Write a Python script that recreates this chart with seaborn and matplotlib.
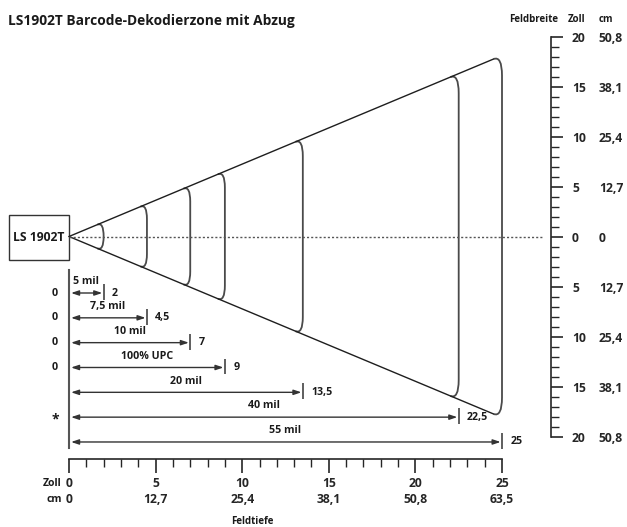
import matplotlib
matplotlib.use('Agg')
import matplotlib.pyplot as plt
from matplotlib.path import Path
from matplotlib.patches import PathPatch, Rectangle
from matplotlib.ticker import MultipleLocator
import pandas as pd
import seaborn as sns

# barcode densities and the far end of their decode range (Zoll)
bar_codes = ['5 mil', '7,5 mil', '10 mil', '100% UPC', '20 mil', '40 mil', '55 mil']
near_labels = ['0', '0', '0', '0', '', '*', '']
far_depth = [2, 4.5, 7, 9, 13.5, 22.5, 25]
far_labels = ['2', '4,5', '7', '9', '13,5', '22,5', '25']

# scan cone: half width at its far end (Zoll)
cone_depth = 25
cone_half_width = 18.1

depth_ticks = [0, 5, 10, 15, 20, 25]
depth_zoll = ['0', '5', '10', '15', '20', '25']
depth_cm = ['0', '12,7', '25,4', '38,1', '50,8', '63,5']

width_ticks = [20, 15, 10, 5, 0, -5, -10, -15, -20]
width_zoll = ['20', '15', '10', '5', '0', '5', '10', '15', '20']
width_cm = ['50,8', '38,1', '25,4', '12,7', '0', '12,7', '25,4', '38,1', '50,8']

title = 'LS1902T Barcode-Dekodierzone mit Abzug'

sns.set_theme(style='white')
plt.rcParams['font.family'] = ['Open Sans', 'DejaVu Sans']
plt.rcParams['font.weight'] = 'bold'
plt.rcParams['text.color'] = '#1a1a1a'

W, H = 627, 527
fig = plt.figure(figsize=(W / 100, H / 100), dpi=100)
fig.patch.set_facecolor('white')


def fx(px):
    return px / W


def fy(py):
    return 1 - py / H


# pixel layout
x0_px, x25_px = 69, 502
px_in_x = (x25_px - x0_px) / 25
y0_px, px_in_y = 236.5, 10.0
ink = '#262626'

# main drawing area: x = depth, y = width (Zoll)
ax = fig.add_axes([0, 0, 1, 1])
ax.set_xlim(-x0_px / px_in_x, (W - x0_px) / px_in_x)
ax.set_ylim(-(H - y0_px) / px_in_y, y0_px / px_in_y)
ax.axis('off')

k = cone_half_width / cone_depth
a_end = 0.35 + 0.006 * cone_depth
xe = cone_depth - a_end
edges = pd.DataFrame({'depth': [0, xe, 0, xe],
                      'width': [0, k * xe, 0, -k * xe],
                      'edge': ['top', 'top', 'bottom', 'bottom']})
sns.lineplot(data=edges, x='depth', y='width', units='edge', estimator=None,
             sort=False, color='#1e1e1e', lw=1.0, ax=ax, legend=False)

# rounded decode limits inside the cone
for d in far_depth:
    a = 0.35 + 0.006 * d
    w = k * d
    b = min(4 * a, w)
    verts = [(d - a, k * (d - a)), (d, w), (d, w - b), (d, -(w - b)),
             (d, -w), (d - a, -k * (d - a))]
    codes = [Path.MOVETO, Path.CURVE3, Path.CURVE3, Path.LINETO,
             Path.CURVE3, Path.CURVE3]
    ax.add_patch(PathPatch(Path(verts, codes), fill=False, ec='#4a4a4a', lw=1.3))

ax.plot([0, (543 - x0_px) / px_in_x], [0, 0], ls=(0, (1.5, 1.5)), color='#555555', lw=1)

# scanner box
bw = 60 / px_in_x
ax.add_patch(Rectangle((-bw, -2.35), bw, 4.5, fc='white', ec='#333333', lw=1))
ax.text(-bw / 2, -0.1, 'LS 1902T', ha='center', va='center', fontsize=8.7)

# range rows
row_top, row_step = 293, 24.83
ax_r = fig.add_axes([0, fy(458), 1, (458 - 268) / H])
ax_r.set_xlim(ax.get_xlim())
ax_r.set_ylim((458 - row_top) / row_step, (268 - row_top) / row_step)
ax_r.patch.set_visible(False)
for s in ['top', 'right', 'bottom']:
    ax_r.spines[s].set_visible(False)
ax_r.spines['left'].set_position(('data', 0))
ax_r.spines['left'].set_bounds(-0.93, 6.23)
ax_r.spines['left'].set_color('#555555')
ax_r.spines['left'].set_linewidth(1.5)
ax_r.set_xticks([])
ax_r.set_yticks([])

for i, (code, near, d, far) in enumerate(zip(bar_codes, near_labels, far_depth, far_labels)):
    ax_r.annotate('', xy=(d, i), xytext=(0, i),
                  arrowprops=dict(arrowstyle='<|-|>,head_length=0.45,head_width=0.15',
                                  color='#333333', lw=1, shrinkA=1.5, shrinkB=1,
                                  mutation_scale=10))
    ax_r.vlines(d, i - 0.36, i + 0.28, color='#333333', lw=1.1)
    ax_r.text(d / 2, i - 0.45, code, ha='center', va='center', fontsize=7.7)
    ax_r.annotate(far, xy=(d, i), xytext=(6, 0), textcoords='offset points',
                  ha='left', va='center', fontsize=7.7)
    if near:
        ax_r.annotate(near, xy=(0, i), xytext=(-10, -2 if near == '*' else 0),
                      textcoords='offset points', ha='center', va='center',
                      fontsize=10 if near == '*' else 7.7)

# depth scale (bottom)
ax_b = fig.add_axes([fx(x0_px), fy(459), fx(x25_px) - fx(x0_px), 0.05])
ax_bc = fig.add_axes(ax_b.get_position().bounds)
for a_ in (ax_b, ax_bc):
    a_.set_xlim(0, 25)
    a_.patch.set_visible(False)
    a_.set_yticks([])
    for s in ['top', 'right', 'left', 'bottom']:
        a_.spines[s].set_visible(False)
ax_b.spines['bottom'].set_visible(True)
ax_b.spines['bottom'].set_color(ink)
ax_b.spines['bottom'].set_linewidth(1.2)
ax_b.set_xticks(depth_ticks, depth_zoll)
ax_b.xaxis.set_minor_locator(MultipleLocator(1))
ax_b.tick_params(axis='x', which='major', bottom=True, length=10, width=1.2,
                 color=ink, pad=3, labelsize=8.7)
ax_b.tick_params(axis='x', which='minor', bottom=True, length=5.8, width=1.0, color=ink)
ax_bc.set_xticks(depth_ticks, depth_cm)
ax_bc.tick_params(axis='x', which='major', bottom=True, length=0, pad=24.5, labelsize=8.7)

# width scale (right)
y_top, y_bot = 36.5, 436.5
rect_w = [fx(551) - 0.01, fy(y_bot), 0.01, (y_bot - y_top) / H]
ax_w = fig.add_axes(rect_w)
ax_wc = fig.add_axes(rect_w)
for a_ in (ax_w, ax_wc):
    a_.set_ylim(-20, 20)
    a_.patch.set_visible(False)
    a_.set_xticks([])
    a_.yaxis.tick_right()
    for s in ['top', 'right', 'left', 'bottom']:
        a_.spines[s].set_visible(False)
ax_w.spines['right'].set_visible(True)
ax_w.spines['right'].set_color(ink)
ax_w.spines['right'].set_linewidth(1.2)
ax_w.set_yticks(width_ticks, width_zoll)
ax_w.yaxis.set_minor_locator(MultipleLocator(1))
ax_w.tick_params(axis='y', which='major', right=True, left=False, labelright=True,
                 labelleft=False, length=8.6, width=1.2, color=ink, pad=6.5, labelsize=8.7)
ax_w.tick_params(axis='y', which='minor', right=True, left=False, length=5.5,
                 width=1.0, color=ink)
ax_wc.set_yticks(width_ticks, width_cm)
ax_wc.tick_params(axis='y', which='major', right=True, left=False, labelright=True,
                  labelleft=False, length=0, pad=34.5, labelsize=8.7)

# texts
fig.text(fx(8), fy(21), title, ha='left', va='center', fontsize=9.9)
fig.text(fx(558), fy(20), 'Feldbreite', ha='right', va='center', fontsize=7)
fig.text(fx(568), fy(20), 'Zoll', ha='left', va='center', fontsize=7)
fig.text(fx(599), fy(20), 'cm', ha='left', va='center', fontsize=7)
fig.text(fx(62), fy(484), 'Zoll', ha='right', va='center', fontsize=7.5)
fig.text(fx(62), fy(500), 'cm', ha='right', va='center', fontsize=7.5)
fig.text(fx(252), fy(521), 'Feldtiefe', ha='center', va='center', fontsize=7)

fig.savefig('out.png', dpi=100)
